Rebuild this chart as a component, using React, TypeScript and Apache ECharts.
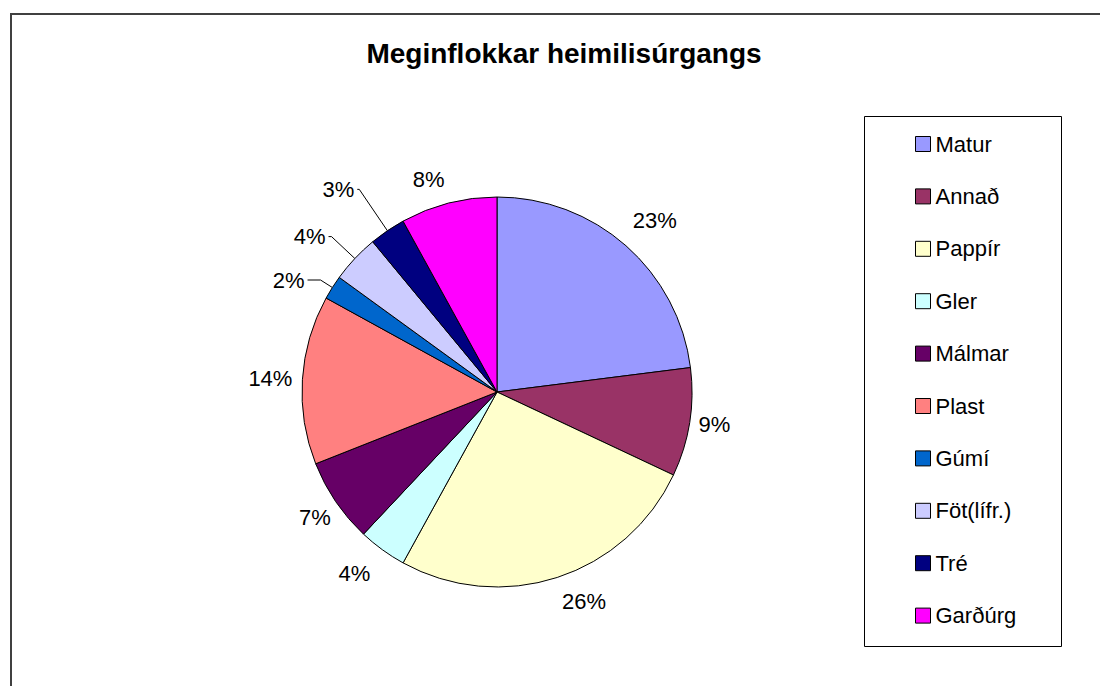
import React, { useEffect, useRef } from "react";
import * as echarts from "echarts";

const categories = ["Matur", "Annað", "Pappír", "Gler", "Málmar", "Plast", "Gúmí", "Föt(lífr.)", "Tré", "Garðúrg"];
const values = [23, 9, 26, 4, 7, 14, 2, 4, 3, 8];
const colors = ["#9999FF", "#993366", "#FFFFCC", "#CCFFFF", "#660066", "#FF8080", "#0066CC", "#CCCCFF", "#000080", "#FF00FF"];
// label placement styles: [radial length, horizontal length, show leader line]
const labelPlacement: [number, number, boolean][] = [
  [33, -18, false],
  [15, -9, false],
  [25, -6, false],
  [29, -8, false],
  [29, -22, false],
  [20, -13, false],
  [14, 13, true],
  [32, 3, true],
  [50, 2, true],
  [24, -5, false],
];

const FONT = "'Liberation Sans', Arial, sans-serif";

export default function App() {
  const ref = useRef<HTMLDivElement>(null);
  useEffect(() => {
    document.body.style.margin = "0";
    const chart = echarts.init(ref.current!, null, { renderer: "svg" });
    chart.setOption({
      animation: false,
      backgroundColor: "#ffffff",
      title: {
        text: "Meginflokkar heimilisúrgangs",
        left: 559,
        top: 34,
        textAlign: "center",
        textStyle: { fontFamily: FONT, fontSize: 28, fontWeight: "bold", color: "#000" },
      },
      graphic: [
        { type: "rect", shape: { x: 11, y: 14, width: 1200, height: 800 }, style: { fill: "none", stroke: "#404040", lineWidth: 2 }, silent: true },
        { type: "rect", shape: { x: 864.5, y: 116.5, width: 197, height: 530 }, style: { fill: "#fff", stroke: "#000", lineWidth: 1 }, silent: true, z: -1 },
      ],
      legend: {
        orient: "vertical",
        left: 915,
        top: 132,
        padding: 0,
        itemWidth: 15,
        itemHeight: 15,
        itemGap: 28.4,
        icon: "rect",
        itemStyle: { borderColor: "#000", borderWidth: 1 },
        textStyle: { fontFamily: FONT, fontSize: 22, color: "#000", lineHeight: 24, padding: [0, 0, 0, 0] },
        data: categories,
      },
      series: [
        {
          type: "pie",
          center: [497, 392],
          radius: 195,
          startAngle: 90,
          clockwise: true,
          avoidLabelOverlap: false,
          itemStyle: { borderColor: "#000", borderWidth: 1 },
          label: {
            show: true,
            position: "outside",
            formatter: "{c}%",
            fontFamily: FONT,
            fontSize: 22,
            color: "#000",
            distanceToLabelLine: 3,
          },
          labelLine: { show: false },
          data: categories.map((name, i) => {
            const [len, len2, show] = labelPlacement[i];
            return {
              name,
              value: values[i],
              itemStyle: { color: colors[i] },
              labelLine: { show, length: len, length2: len2, lineStyle: { color: "#000", width: 1 } },
            };
          }),
        },
      ],
    });
    return () => chart.dispose();
  }, []);
  return <div ref={ref} style={{ width: 1100, height: 686 }} />;
}
